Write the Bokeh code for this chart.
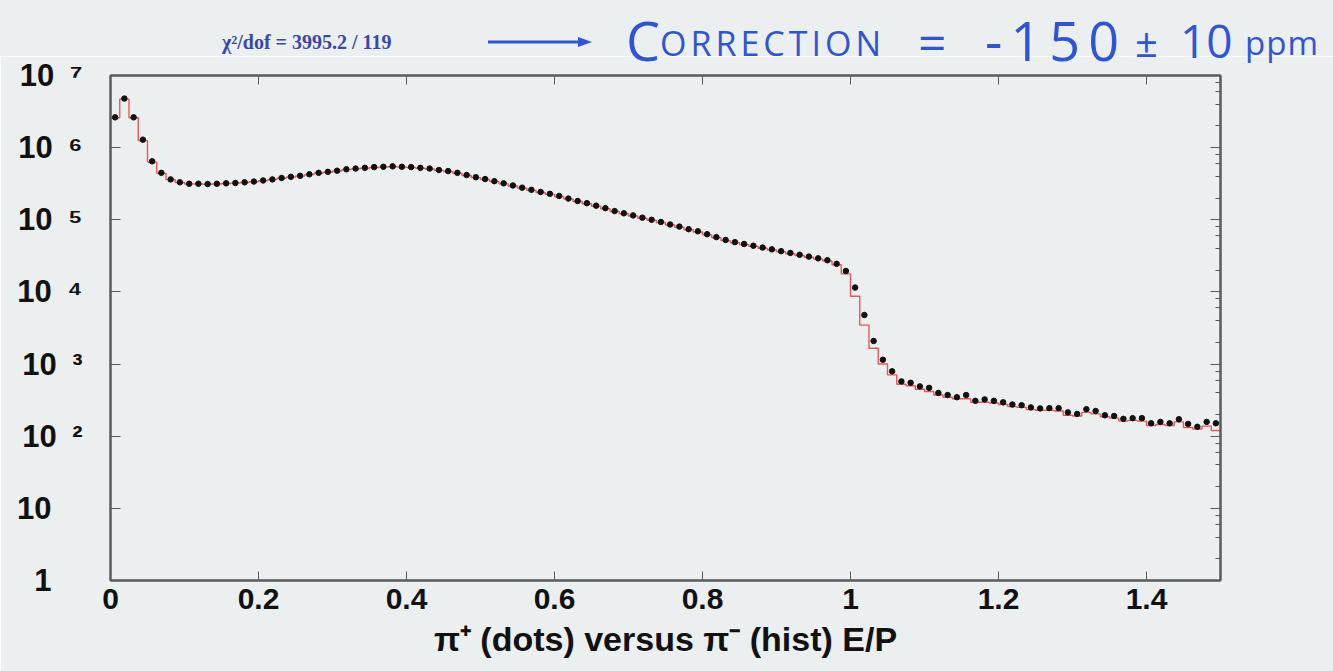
import numpy as np
from bokeh.plotting import figure
from bokeh.layouts import column
from bokeh.models import (LinearAxis, LogAxis, Range1d, Div,
                          CustomJSTickFormatter, FixedTicker)
from bokeh.embed import file_html
from bokeh.resources import INLINE

# ---------------- data ----------------
x_min, x_max, n_bins = 0.0, 1.5, 120

# pi+ counts per bin (dots)
dots = [2.63e6, 4.79e6, 2.63e6, 1.29e6, 6.46e5, 4.47e5, 3.63e5, 3.31e5, 3.16e5, 3.16e5,
        3.13e5, 3.16e5, 3.20e5, 3.24e5, 3.31e5, 3.39e5, 3.51e5, 3.63e5, 3.80e5, 3.94e5,
        4.07e5, 4.27e5, 4.47e5, 4.62e5, 4.79e5, 5.01e5, 5.13e5, 5.25e5, 5.37e5, 5.43e5,
        5.50e5, 5.43e5, 5.37e5, 5.25e5, 5.13e5, 4.90e5, 4.73e5, 4.47e5, 4.17e5, 3.89e5,
        3.67e5, 3.43e5, 3.20e5, 2.99e5, 2.79e5, 2.60e5, 2.43e5, 2.29e5, 2.14e5, 1.97e5,
        1.82e5, 1.70e5, 1.57e5, 1.45e5, 1.32e5, 1.23e5, 1.15e5, 1.07e5, 1.00e5, 9.33e4,
        8.61e4, 8.04e4, 7.41e4, 6.92e4, 6.31e4, 5.75e4, 5.25e4, 4.90e4, 4.62e4, 4.37e4,
        4.12e4, 3.89e4, 3.67e4, 3.47e4, 3.27e4, 3.09e4, 2.92e4, 2.75e4, 2.45e4, 1.95e4,
        1.15e4, 4.79e3, 2.09e3, 1.15e3, 794, 575, 550, 490, 468, 398,
        372, 347, 372, 309, 324, 309, 295, 275, 269, 251,
        243, 245, 245, 214, 204, 237, 224, 195, 191, 174,
        178, 178, 151, 158, 151, 172, 148, 135, 158, 151]

# pi- counts per bin (histogram)
hist = [2.60e6, 4.70e6, 2.60e6, 1.25e6, 6.30e5, 4.40e5, 3.60e5, 3.28e5, 3.14e5, 3.14e5,
        3.11e5, 3.14e5, 3.18e5, 3.22e5, 3.29e5, 3.37e5, 3.48e5, 3.60e5, 3.76e5, 3.90e5,
        4.03e5, 4.22e5, 4.42e5, 4.57e5, 4.74e5, 4.95e5, 5.07e5, 5.19e5, 5.30e5, 5.37e5,
        5.43e5, 5.37e5, 5.30e5, 5.19e5, 5.06e5, 4.84e5, 4.67e5, 4.41e5, 4.11e5, 3.84e5,
        3.62e5, 3.38e5, 3.15e5, 2.94e5, 2.75e5, 2.56e5, 2.39e5, 2.25e5, 2.10e5, 1.94e5,
        1.79e5, 1.67e5, 1.54e5, 1.42e5, 1.30e5, 1.21e5, 1.13e5, 1.05e5, 9.82e4, 9.15e4,
        8.45e4, 7.88e4, 7.26e4, 6.78e4, 6.18e4, 5.63e4, 5.14e4, 4.80e4, 4.52e4, 4.28e4,
        4.03e4, 3.81e4, 3.59e4, 3.39e4, 3.20e4, 3.02e4, 2.85e4, 2.68e4, 2.38e4, 1.78e4,
        8.70e3, 3.47e3, 1.66e3, 1.00e3, 708, 525, 500, 447, 417, 372,
        347, 331, 331, 295, 295, 288, 275, 257, 251, 234,
        229, 229, 224, 195, 191, 214, 204, 186, 178, 162,
        166, 162, 141, 145, 141, 158, 132, 126, 138, 120]

x_ticks = [0, 0.2, 0.4, 0.6, 0.8, 1.0, 1.2, 1.4]
x_tick_labels = ["0", "0.2", "0.4", "0.6", "0.8", "1", "1.2", "1.4"]
y_ticks = [1, 10, 100, 1000, 10000, 100000, 1000000, 10000000]
y_tick_labels = ["1\u2002\u2002", "10\u2002\u2002", "10\u2002²", "10\u2002³",
                 "10\u2002⁴", "10\u2002⁵", "10\u2002⁶", "10\u2002⁷"]

fit_text = "χ²/dof = 3995.2 / 119"
note_parts = ["C", "ORRECTION", "=", "-150", "±", "10", "ppm"]
x_title = "π⁺ (dots) versus π⁻ (hist) E/P"

# ---------------- style ----------------
BG = "#eceff0"
FRAME = "#5a5a5a"
INK = "#2f55d6"
W = 1333
HEAD_H = 56
FRAME_TOP = 75

# ---------------- header (annotations above the plot) ----------------
def span(txt, left, center_y, size, extra=""):
    top = center_y - size / 2
    return (f'<span style="position:absolute;left:{left}px;top:{top:.0f}px;'
            f'font-size:{size}px;line-height:1;white-space:nowrap;{extra}">{txt}</span>')

note_left = [626, 660, 918, 985, 1135, 1180, 1245]
note_cy = [40, 43, 42, 40, 42, 40, 42]
note_size = [54, 34, 50, 54, 40, 46, 33]
note_spacing = [0, 4, 0, 8, 0, 0, 1]

pieces = [span(fit_text, 222, 42, 20,
               "font-family:'Liberation Serif';font-weight:bold;color:#3a47a8;")]
for t, l, cy, s, ls in zip(note_parts, note_left, note_cy, note_size, note_spacing):
    pieces.append(span(t, l, cy, s,
                       f"font-family:'Open Sans';color:{INK};letter-spacing:{ls}px;"))
arrow_svg = (f'<svg style="position:absolute;left:486px;top:34px" width="110" height="16">'
             f'<line x1="2" y1="8" x2="96" y2="8" stroke="{INK}" stroke-width="3"/>'
             f'<polygon points="92,3 106,8 92,13" fill="{INK}"/></svg>')
pieces.append(arrow_svg)

header_html = (f'<div style="position:relative;width:{W}px;height:{HEAD_H}px;'
               f'background:{BG};overflow:visible">' + "".join(pieces) + '</div>')
head = Div(text=header_html, width=W, height=HEAD_H, margin=0,
           styles={"z-index": "5", "overflow": "visible"})

# ---------------- main plot ----------------
edges = np.linspace(x_min, x_max, n_bins + 1)
centers = 0.5 * (edges[:-1] + edges[1:])

p = figure(frame_width=1110, frame_height=505, y_axis_type="log",
           x_range=Range1d(x_min, x_max), y_range=Range1d(1, 1e7),
           output_backend="svg", toolbar_location=None,
           min_border_left=110, min_border_right=W - 110 - 1110,
           min_border_top=FRAME_TOP - HEAD_H, min_border_bottom=91,
           background_fill_color=BG, border_fill_color=BG)
p.xgrid.visible = False
p.ygrid.visible = False
p.outline_line_color = FRAME
p.outline_line_width = 2

p.step(x=list(edges), y=list(hist) + [hist[-1]], mode="after",
       line_color="#e8575a", line_width=1.4)
p.scatter(x=centers, y=dots, size=5.5, marker="circle",
          fill_color="#111111", line_color="#111111")

xa = p.xaxis[0]
xa.ticker = FixedTicker(ticks=x_ticks)
xa.major_label_overrides = {t: l for t, l in zip(x_ticks, x_tick_labels)}
xa.major_tick_in = 9
xa.major_tick_out = 0
xa.minor_tick_line_alpha = 0
xa.axis_line_color = FRAME
xa.axis_line_width = 2
xa.major_tick_line_color = FRAME
xa.major_label_text_font = "Liberation Sans"
xa.major_label_text_font_style = "bold"
xa.major_label_text_font_size = "30px"
xa.major_label_text_color = "#111111"
xa.major_label_standoff = 8
xa.axis_label = x_title
xa.axis_label_text_font = "Liberation Sans"
xa.axis_label_text_font_style = "bold"
xa.axis_label_text_font_size = "34px"
xa.axis_label_text_color = "#111111"
xa.axis_label_standoff = 8

ya = p.yaxis[0]
ya.ticker = FixedTicker(ticks=y_ticks)
ya.major_label_overrides = {t: l for t, l in zip(y_ticks, y_tick_labels)}
ya.major_tick_in = 10
ya.major_tick_out = 0
ya.minor_tick_in = 5
ya.minor_tick_out = 0
ya.axis_line_color = FRAME
ya.axis_line_width = 2
ya.major_tick_line_color = FRAME
ya.minor_tick_line_color = FRAME
ya.major_label_text_font = "Liberation Sans"
ya.major_label_text_font_style = "bold"
ya.major_label_text_font_size = "31px"
ya.major_label_text_color = "#111111"
ya.major_label_standoff = 28

top = LinearAxis(ticker=FixedTicker(ticks=x_ticks),
                 formatter=CustomJSTickFormatter(code="return ''"),
                 major_tick_in=9, major_tick_out=0, minor_tick_line_alpha=0,
                 axis_line_color=FRAME, axis_line_width=2, major_tick_line_color=FRAME,
                 major_label_standoff=0, major_label_text_font_size="0px")
p.add_layout(top, "above")
right = LogAxis(formatter=CustomJSTickFormatter(code="return ''"),
                major_tick_in=10, major_tick_out=0, minor_tick_in=5, minor_tick_out=0,
                axis_line_color=FRAME, axis_line_width=2, major_tick_line_color=FRAME,
                minor_tick_line_color=FRAME, major_label_standoff=0,
                major_label_text_font_size="0px")
p.add_layout(right, "right")

layout = column(head, p, spacing=0)
open("out.html", "w").write(file_html(layout, INLINE))
